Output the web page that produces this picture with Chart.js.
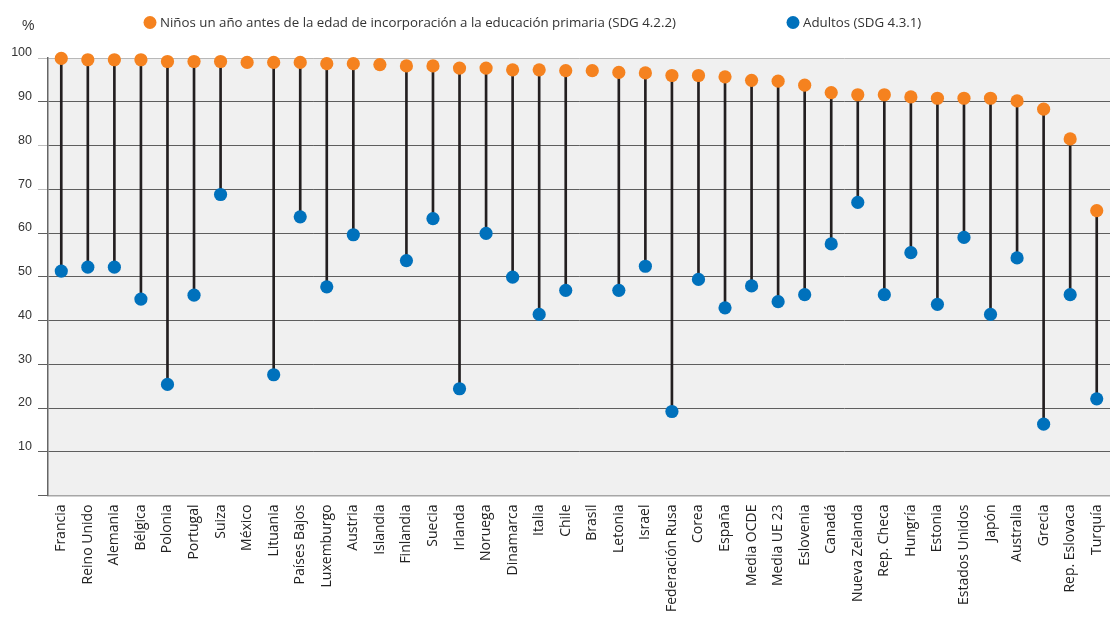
<!DOCTYPE html>
<html>
<head>
<meta charset="utf-8">
<script src="https://cdn.jsdelivr.net/npm/chart.js@4.4.1/dist/chart.umd.min.js"></script>
<style>
  html, body { margin: 0; padding: 0; background: #ffffff; overflow: hidden; }
  #wrap { position: relative; width: 1110px; height: 617px; }
</style>
</head>
<body>
<div id="wrap"><canvas id="c"></canvas></div>
<script>
const categories = ["Francia","Reino Unido","Alemania","Bélgica","Polonia","Portugal","Suiza","México","Lituania","Países Bajos","Luxemburgo","Austria","Islandia","Finlandia","Suecia","Irlanda","Noruega","Dinamarca","Italia","Chile","Brasil","Letonia","Israel","Federación Rusa","Corea","España","Media OCDE","Media UE 23","Eslovenia","Canadá","Nueva Zelanda","Rep. Checa","Hungría","Estonia","Estados Unidos","Japón","Australia","Grecia","Rep. Eslovaca","Turquía"];

const ninos = [99.9,99.6,99.6,99.6,99.2,99.2,99.2,99.0,99.0,99.0,98.7,98.7,98.5,98.2,98.2,97.7,97.7,97.3,97.3,97.1,97.1,96.7,96.6,96.0,96.0,95.7,94.9,94.7,93.8,92.1,91.6,91.6,91.1,90.8,90.8,90.8,90.2,88.3,81.5,65.1];

const adultos = [51.3,52.2,52.2,44.9,25.4,45.8,68.8,null,27.6,63.7,47.7,59.6,null,53.7,63.3,24.4,59.9,49.9,41.4,46.9,null,46.9,52.4,19.2,49.4,42.9,47.9,44.3,45.9,57.5,67.0,45.9,55.5,43.7,59.0,41.4,54.3,16.3,45.9,22.1];

const yTicks = [0,10,20,30,40,50,60,70,80,90,100];

const labelNinos = "Niños un año antes de la edad de incorporación a la educación primaria (SDG 4.2.2)";
const labelAdultos = "Adultos (SDG 4.3.1)";
const unitLabel = "%";

const ORANGE = "#f5821f";
const BLUE = "#0071bc";

const stems = categories.map((c, i) => adultos[i] == null ? null : [adultos[i], ninos[i]]);

const bgPlugin = {
  id: "bgPlugin",
  beforeDraw(chart) {
    const { ctx, chartArea: a } = chart;
    ctx.save();
    ctx.fillStyle = "#f0f0f0";
    ctx.fillRect(a.left, a.top, a.right - a.left, a.bottom - a.top);
    ctx.restore();
  },
  afterDraw(chart) {
    const { ctx } = chart;
    ctx.save();
    ctx.textBaseline = "middle";
    ctx.textAlign = "left";
    ctx.font = "13.3px 'Open Sans'";
    const items = [
      { x: 150, y: 22.5, color: ORANGE, text: labelNinos },
      { x: 793, y: 22.5, color: BLUE, text: labelAdultos }
    ];
    items.forEach(it => {
      ctx.beginPath();
      ctx.fillStyle = it.color;
      ctx.arc(it.x, it.y, 6.5, 0, Math.PI * 2);
      ctx.fill();
      ctx.fillStyle = "#333333";
      ctx.fillText(it.text, it.x + 10, it.y + 0.5);
    });
    ctx.font = "14px 'Liberation Sans'";
    ctx.fillStyle = "#333333";
    ctx.fillText(unitLabel, 22, 26);
    ctx.restore();
  }
};

new Chart(document.getElementById("c"), {
  type: "bar",
  data: {
    labels: categories,
    datasets: [
      {
        type: "line",
        label: labelNinos,
        data: ninos,
        showLine: false,
        pointRadius: 6.6,
        pointHoverRadius: 6.6,
        pointBackgroundColor: ORANGE,
        pointBorderWidth: 0,
        borderColor: ORANGE,
        clip: false,
        order: 1
      },
      {
        type: "line",
        label: labelAdultos,
        data: adultos,
        showLine: false,
        pointRadius: 6.6,
        pointHoverRadius: 6.6,
        pointBackgroundColor: BLUE,
        pointBorderWidth: 0,
        borderColor: BLUE,
        clip: false,
        order: 2
      },
      {
        type: "bar",
        label: "stems",
        data: stems,
        backgroundColor: "#231f20",
        borderWidth: 0,
        barThickness: 2,
        borderSkipped: false,
        order: 3
      }
    ]
  },
  options: {
    responsive: true,
    maintainAspectRatio: false,
    animation: false,
    devicePixelRatio: 1,
    layout: { autoPadding: false, padding: { top: 58, left: 0, right: 0, bottom: 0 } },
    plugins: {
      legend: { display: false },
      tooltip: { enabled: false }
    },
    scales: {
      x: {
        type: "category",
        offset: true,
        grid: { display: false, drawTicks: false },
        border: { display: true, color: "#a6a6a6", width: 1.5 },
        ticks: {
          autoSkip: false,
          maxRotation: 90,
          minRotation: 90,
          padding: 9,
          color: "#222222",
          font: { family: "'Open Sans'", size: 14 }
        },
        afterFit(scale) {
          scale.height = 121.5;
          scale.paddingRight = 0;
          scale.paddingLeft = 0;
        }
      },
      y: {
        min: 0,
        max: 100,
        afterBuildTicks(scale) { scale.ticks = yTicks.map(v => ({ value: v })); },
        grid: {
          color: ctx => {
            const v = ctx.tick ? ctx.tick.value : null;
            if (v === 100) return "#b8b8b8";
            if (v === 0) return "rgba(0,0,0,0)";
            return "#5e5e5e";
          },
          tickColor: ctx => {
            const v = ctx.tick ? ctx.tick.value : null;
            if (v === 100 || v === 80 || v === 70) return "#bdbdbd";
            return "#5e5e5e";
          },
          lineWidth: 1,
          drawTicks: true,
          tickLength: 10
        },
        border: { display: true, color: "#666666", width: 1.5 },
        ticks: {
          padding: 6,
          labelOffset: -5,
          color: "#333333",
          font: { family: "'Liberation Sans'", size: 12.5 },
          callback: v => (v === 0 ? "" : String(v))
        },
        afterFit(scale) { scale.width = 48; }
      }
    }
  },
  plugins: [bgPlugin]
});
</script>
</body>
</html>
